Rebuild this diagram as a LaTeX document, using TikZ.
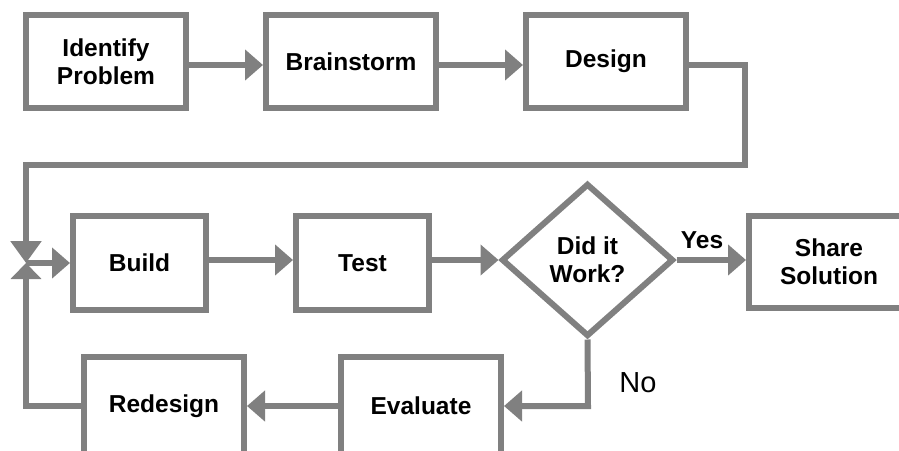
\documentclass[tikz,border=0pt]{standalone}
\usepackage{fontspec}
\setmainfont{Liberation Sans}
\usetikzlibrary{arrows.meta,shapes.geometric}
\definecolor{lg}{RGB}{128,128,128}
\tikzset{
  box/.style={draw=lg, line width=6pt, fill=white, rectangle, inner sep=0pt,
    align=center, font=\fontsize{24.5pt}{28pt}\selectfont\bfseries},
  arr/.style={draw=lg, line width=6pt, -{Triangle[length=18pt,width=30pt]}},
  lbl/.style={font=\fontsize{24.5pt}{28pt}\selectfont\bfseries, inner sep=0pt}
}
\begin{document}
\begin{tikzpicture}[x=1pt,y=-1pt]
\useasboundingbox (0,0) rectangle (899,450);
\clip (0,0) rectangle (899,450);
\fill[white] (0,0) rectangle (899,450);
% top row
\node[box, minimum width=160pt, minimum height=93pt] (idp) at (106,61.5) {Identify\\Problem};
\node[box, minimum width=170pt, minimum height=93pt] (brain) at (351,61.5) {Brainstorm};
\node[box, minimum width=160pt, minimum height=93pt] (design) at (606,61.5) {Design};
% middle row
\node[box, minimum width=133pt, minimum height=94pt] (build) at (139.5,263) {Build};
\node[box, minimum width=133pt, minimum height=94pt] (test) at (362.5,263) {Test};
\node[box, shape=diamond, minimum width=172pt, minimum height=153pt] (dia) at (587.5,260) {Did it\\Work?};
\node[box, minimum width=160pt, minimum height=92pt] (share) at (829,262) {Share\\Solution};
% bottom row
\node[box, minimum width=160pt, minimum height=98pt] (redesign) at (164,406) {Redesign};
\node[box, minimum width=160pt, minimum height=98pt] (evaluate) at (421,406) {Evaluate};
% coordinates
\coordinate (m) at (26,263);
\coordinate (c1) at (745,65);
\coordinate (c2) at (745,165);
\coordinate (c3) at (26,165);
\coordinate (c4) at (588,406);
\coordinate (c5) at (26,406);
% connectors
\draw[arr] ([yshift=-3.5pt]idp.east) -- ([yshift=-3.5pt]brain.west);
\draw[arr] ([yshift=-3.5pt]brain.east) -- ([yshift=-3.5pt]design.west);
\draw[arr, -{Triangle[length=22pt,width=30pt]}] ([yshift=-3.5pt]design.east) -- (c1) -- (c2) -- (c3) -- (m);
\draw[arr] (m) -- (build.west |- m);
\draw[arr, -{Triangle[length=16pt,width=30pt]}] (redesign.west) -- (c5) -- (m);
\draw[arr] ([yshift=3pt]build.east) -- ([yshift=3pt]test.west);
\draw[arr] ([yshift=3pt]test.east) -- (dia.west);
\draw[arr] (dia.east) -- (share.west |- dia.east);
\draw[arr] (dia.south) -- (c4) -- (evaluate.east);
\draw[arr] (evaluate.west) -- (redesign.east);
% labels
\node[lbl] (yes) at (702,240) {Yes};
\node[font=\fontsize{29pt}{30pt}\selectfont, inner sep=0pt] (no) at (638,383) {No};
\end{tikzpicture}
\end{document}
